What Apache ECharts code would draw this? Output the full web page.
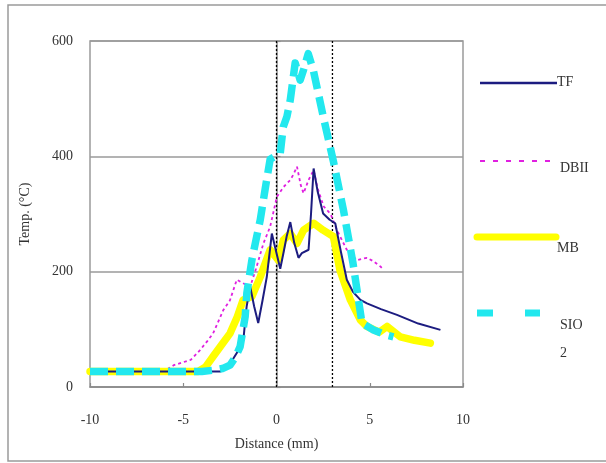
<!DOCTYPE html>
<html>
<head>
<meta charset="utf-8">
<script src="https://cdn.jsdelivr.net/npm/echarts@6/dist/echarts.min.js"></script>
<style>html,body{margin:0;padding:0;background:#fff;}#c{width:606px;height:463px;}</style>
</head>
<body>
<div id="c"></div>
<script>
const xTicks = [-10, -5, 0, 5, 10];
const yTicks = [0, 200, 400, 600];
const seriesNames = ['TF', 'DBII', 'MB', 'SIO2'];
const refLinesX = [0, 3];

const TF = [[-10,27],[-3,27],[-2.5,40],[-2.13,59],[-1.78,81],[-1.6,140],[-1.41,174],[-1.2,140],[-0.98,111],[-0.75,150],[-0.52,191],[-0.25,266],[0.2,205],[0.37,232],[0.55,262],[0.74,286],[0.95,250],[1.18,224],[1.36,232],[1.72,238],[1.85,300],[1.99,379],[2.2,340],[2.5,301],[2.85,290],[3.15,284],[3.45,235],[3.77,186],[4.1,165],[4.5,151],[4.85,145],[5.6,135],[6.46,125],[7.6,110],[8.79,99]];
const DBII = [[-10,27],[-6,28],[-5.5,38],[-4.6,47],[-4.1,64],[-3.7,80],[-3.4,93],[-2.86,133],[-2.5,150],[-2.13,186],[-1.8,180],[-1.41,174],[-1.1,205],[-0.7,249],[-0.34,278],[0.02,330],[0.38,347],[0.74,359],[0.9,368],[1.1,382],[1.3,350],[1.45,336],[1.72,359],[1.99,376],[2.2,345],[2.53,313],[2.9,300],[3.24,272],[3.77,238],[4.3,220],[4.85,224],[5.2,218],[5.57,209],[5.74,203]];
const MB = [[-10,27],[-4.2,27],[-3.8,35],[-3.4,53],[-2.9,75],[-2.49,93],[-2.1,122],[-1.79,151],[-1.32,157],[-0.87,191],[-0.34,238],[0.1,220],[0.37,255],[0.74,266],[1.1,249],[1.45,272],[2.0,284],[2.5,272],[3.05,261],[3.4,203],[3.96,151],[4.5,116],[4.85,105],[5.5,95],[5.93,105],[6.64,87],[7.4,81],[8.25,76]];
const SIO2 = [[-10,27],[-4,27],[-3.4,29],[-2.9,32],[-2.49,38],[-2.2,52],[-1.95,70],[-1.68,122],[-1.59,163],[-1.32,220],[-1.1,255],[-0.87,290],[-0.6,345],[-0.34,395],[0.2,405],[0.36,451],[0.56,469],[0.74,498],[1.0,562],[1.27,532],[1.45,550],[1.7,578],[1.97,550],[2.5,470],[3.06,390],[3.6,305],[4.1,215],[4.58,111],[5.2,99],[5.8,91],[6.27,87]];

const serif = 'Liberation Serif';
const chart = echarts.init(document.getElementById('c'), null, {renderer: 'canvas'});

const refSeries = refLinesX.map(x => ({
  type: 'line', silent: true, symbol: 'none', z: 1,
  data: [[x, 0], [x, 600]],
  lineStyle: {color: '#000', width: 1.3, type: [2, 2]}
}));

chart.setOption({
  animation: false,
  backgroundColor: '#fff',
  grid: {left: 90, right: 143, top: 41, bottom: 76, show: true, borderColor: '#9a9a9a', borderWidth: 1.5},
  xAxis: {
    type: 'value', min: xTicks[0], max: xTicks[xTicks.length - 1], interval: 5,
    name: 'Distance (mm)', nameLocation: 'middle', nameGap: 50,
    nameTextStyle: {fontFamily: serif, fontSize: 14, color: '#333'},
    axisLine: {show: true, lineStyle: {color: '#8a8a8a', width: 1.5}},
    axisTick: {show: true, inside: true, length: 4, lineStyle: {color: '#8a8a8a', width: 1.2}},
    axisLabel: {fontFamily: serif, fontSize: 14, color: '#333', margin: 26},
    splitLine: {show: false}
  },
  yAxis: {
    type: 'value', min: yTicks[0], max: yTicks[yTicks.length - 1], interval: 200,
    name: 'Temp. (°C)', nameLocation: 'middle', nameGap: 58, nameRotate: 90,
    nameTextStyle: {fontFamily: serif, fontSize: 14, color: '#333'},
    axisLine: {show: true, lineStyle: {color: '#8a8a8a', width: 1.5}},
    axisTick: {show: true, inside: true, length: 4, lineStyle: {color: '#8a8a8a', width: 1.2}},
    axisLabel: {fontFamily: serif, fontSize: 14, color: '#333', margin: 17},
    splitLine: {show: true, lineStyle: {color: '#9a9a9a', width: 1.5}}
  },
  series: [
    ...refSeries,
    {name: seriesNames[1], type: 'line', symbol: 'none', z: 2, data: DBII,
     lineStyle: {color: '#e020e0', width: 1.8, type: [3, 3]}},
    {name: seriesNames[2], type: 'line', symbol: 'none', z: 3, data: MB,
     lineStyle: {color: '#ffff00', width: 7.5, cap: 'round', join: 'round'}},
    {name: seriesNames[0], type: 'line', symbol: 'none', z: 4, data: TF,
     lineStyle: {color: '#1c1c80', width: 2}},
    {name: seriesNames[3], type: 'line', symbol: 'none', z: 5, data: SIO2,
     lineStyle: {color: '#22e8ee', width: 7.5, type: [18, 8], cap: 'butt', join: 'round'}}
  ],
  graphic: [
    {type: 'rect', silent: true, z: -1, shape: {x: 8, y: 5, width: 610, height: 456},
     style: {fill: 'none', stroke: '#9a9a9a', lineWidth: 1.5}},
    {type: 'line', shape: {x1: 480, y1: 83, x2: 557, y2: 83}, style: {stroke: '#1c1c80', lineWidth: 2.5}},
    {type: 'text', left: 557, top: 75, style: {text: seriesNames[0], font: '14px "Liberation Serif"', fill: '#333'}},
    {type: 'line', shape: {x1: 480, y1: 161, x2: 550, y2: 161}, style: {stroke: '#e020e0', lineWidth: 2, lineDash: [5, 8]}},
    {type: 'text', left: 560, top: 161, style: {text: seriesNames[1], font: '14px "Liberation Serif"', fill: '#333'}},
    {type: 'line', shape: {x1: 477, y1: 237, x2: 556, y2: 237}, style: {stroke: '#ffff00', lineWidth: 7, lineCap: 'round'}},
    {type: 'text', left: 557, top: 241, style: {text: seriesNames[2], font: '14px "Liberation Serif"', fill: '#333'}},
    {type: 'line', shape: {x1: 477, y1: 313, x2: 493, y2: 313}, style: {stroke: '#22e8ee', lineWidth: 7}},
    {type: 'line', shape: {x1: 525, y1: 313, x2: 540, y2: 313}, style: {stroke: '#22e8ee', lineWidth: 7}},
    {type: 'text', left: 560, top: 311, style: {text: 'SIO\n2', font: '14px "Liberation Serif"', fill: '#333', lineHeight: 28}}
  ]
});
</script>
</body>
</html>
